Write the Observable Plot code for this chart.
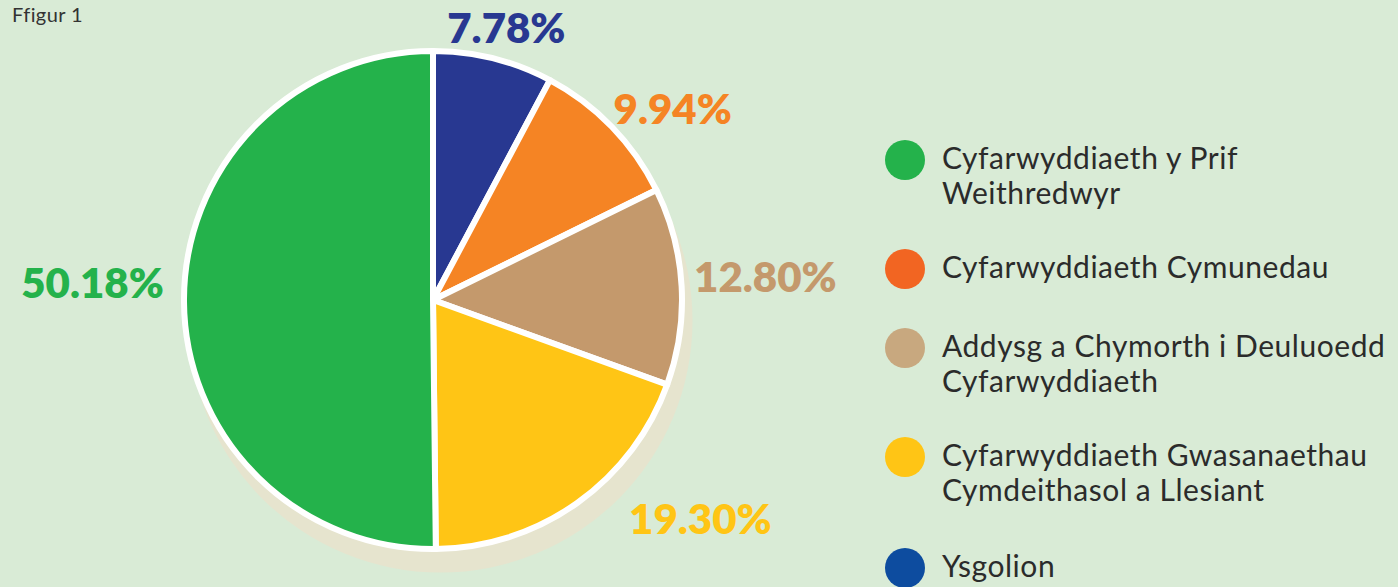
<!DOCTYPE html>
<html>
<head>
<meta charset="utf-8">
<script src="https://cdn.jsdelivr.net/npm/d3@7"></script>
<script src="https://cdn.jsdelivr.net/npm/@observablehq/plot@0.6"></script>
<style>
  html, body { margin: 0; padding: 0; background: #D9EBD6; }
  #wrap { position: relative; width: 1398px; height: 587px; overflow: hidden; background: #D9EBD6; }
  #title { position: absolute; left: 12px; top: 2px; font: 400 20px Lato, sans-serif; letter-spacing: 0.4px; color: #333; }
  .leg { position: absolute; left: 885px; }
  .leg .dot { position: absolute; left: 0; top: 0; width: 40px; height: 40px; border-radius: 50%; }
  .leg .txt { position: absolute; left: 57px; white-space: nowrap; color: #2b2b2b; }
  .leg .line { display: block; height: 35px; line-height: 35px; font: 400 30px Lato, sans-serif; }
  svg { position: absolute; left: 0; top: 0; }
</style>
</head>
<body>
<div id="wrap"><div id="title">Ffigur 1</div></div>
<script>
// ---- data (pie order, clockwise from 12 o'clock) ----
const categories = [
  "Ysgolion",
  "Cyfarwyddiaeth Cymunedau",
  "Addysg a Chymorth i Deuluoedd Cyfarwyddiaeth",
  "Cyfarwyddiaeth Gwasanaethau Cymdeithasol a Llesiant",
  "Cyfarwyddiaeth y Prif Weithredwyr"
];
const values = [7.78, 9.94, 12.80, 19.30, 50.18];

// legend order and line breaks
const legendOrder = [4, 1, 2, 3, 0];
const legendLines = [
  ["Cyfarwyddiaeth y Prif", "Weithredwyr"],
  ["Cyfarwyddiaeth Cymunedau"],
  ["Addysg a Chymorth i Deuluoedd", "Cyfarwyddiaeth"],
  ["Cyfarwyddiaeth Gwasanaethau", "Cymdeithasol a Llesiant"],
  ["Ysgolion"]
];

// ---- styles / layout ----
const sliceColors = ["#283891", "#F58424", "#C4996C", "#FFC515", "#24B24B"];
const legendColors = ["#24B24B", "#F26522", "#C8A87F", "#FFC515", "#0D4C9F"];
const cx = 433, cy = 300, R = 249;
const labelAngleNudge = [1.0, 5.5, -0.8, -15.2, 3.2];   // degrees
const labelRadius = [1.13, 1.229, 1.336, 1.387, 1.371]; // in pie radii
const legendCenters = [160, 269, 348, 457, 568];
const legendRefText = "Cyfarwyddiaeth Cymunedau", legendRefWidth = 387;

// ---- derived ----
const arcs = d3.pie().sort(null).value(d => d.value)(
  categories.map((c, i) => ({category: c, value: values[i]}))
);
const labels = arcs.map((a, i) => {
  const t = (a.startAngle + a.endAngle) / 2 + labelAngleNudge[i] * Math.PI / 180;
  return {
    category: a.data.category,
    text: a.data.value.toFixed(2) + "%",
    x: labelRadius[i] * Math.sin(t),
    y: labelRadius[i] * Math.cos(t)
  };
});

function pieMark(...args) {
  const scales = args.find(a => a && typeof a.x === "function" && typeof a.color === "function");
  const x0 = scales.x(0), y0 = scales.y(0), r = scales.x(1) - scales.x(0);
  const g = d3.create("svg:g").attr("transform", `translate(${x0},${y0})`);
  const arc = d3.arc().innerRadius(0).outerRadius(r);
  g.selectAll("path").data(arcs).join("path")
    .attr("d", arc)
    .attr("fill", d => scales.color(d.data.category))
    .attr("stroke", "white")
    .attr("stroke-width", 6)
    .attr("stroke-linejoin", "round");
  return g.node();
}

const chart = Plot.plot({
  width: 1398,
  height: 587,
  margin: 0,
  style: {background: "transparent", overflow: "visible"},
  x: {domain: [-1, 1], range: [cx - R, cx + R], axis: null},
  y: {domain: [-1, 1], range: [cy + R, cy - R], axis: null},
  color: {domain: categories, range: sliceColors},
  marks: [
    Plot.dot([0], {x: () => 0, y: () => 0, r: 252, dx: 7, dy: 20, fill: "#E6E4CE"}),
    pieMark,
    Plot.text(labels, {
      x: "x", y: "y", text: "text", fill: "category",
      fontSize: 42, fontWeight: 800, fontFamily: "Lato",
      textAnchor: "middle", lineAnchor: "middle", dy: 1
    })
  ]
});
const wrap = document.getElementById("wrap");
wrap.appendChild(chart);

// letter-spacing so the legend text matches the reference width
const ctx = document.createElement("canvas").getContext("2d");
ctx.font = "400 30px Lato";
const natural = ctx.measureText(legendRefText).width;
const spacing = (legendRefWidth - natural) / legendRefText.length;

legendOrder.forEach((ci, k) => {
  const item = document.createElement("div");
  item.className = "leg";
  item.style.top = (legendCenters[k] - 20) + "px";
  const dot = document.createElement("div");
  dot.className = "dot";
  dot.style.background = legendColors[k];
  const txt = document.createElement("div");
  txt.className = "txt";
  // Lato: ascent 0.987em, descent 0.213em -> baseline at ~ (35-36)/2 + 29.6 in a 35px line
  txt.style.top = (20 + 8 - 29.1) + "px";
  legendLines[k].forEach(s => {
    const ln = document.createElement("span");
    ln.className = "line";
    ln.style.letterSpacing = spacing + "px";
    ln.textContent = s;
    txt.appendChild(ln);
  });
  item.title = categories[ci];
  item.appendChild(dot);
  item.appendChild(txt);
  wrap.appendChild(item);
});
</script>
</body>
</html>
